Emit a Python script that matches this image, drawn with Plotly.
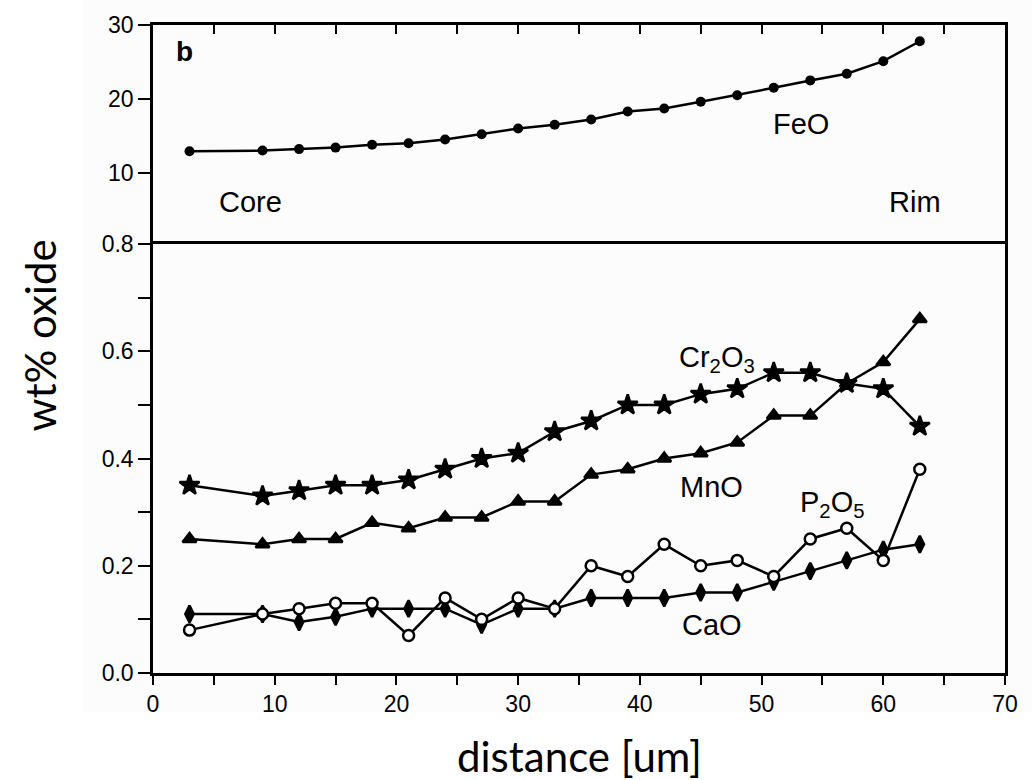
import plotly.graph_objects as go

# Microprobe traverse, core to rim (distance in um)
distance = [3, 9, 12, 15, 18, 21, 24, 27, 30, 33, 36, 39, 42, 45, 48, 51, 54, 57, 60, 63]

feo = [12.9, 13.0, 13.2, 13.4, 13.8, 14.0, 14.5, 15.2, 16.0, 16.5,
       17.2, 18.3, 18.7, 19.6, 20.5, 21.5, 22.5, 23.4, 25.1, 27.8]
cr2o3 = [0.35, 0.33, 0.34, 0.35, 0.35, 0.36, 0.38, 0.40, 0.41, 0.45,
         0.47, 0.50, 0.50, 0.52, 0.53, 0.56, 0.56, 0.54, 0.53, 0.46]
mno = [0.25, 0.24, 0.25, 0.25, 0.28, 0.27, 0.29, 0.29, 0.32, 0.32,
       0.37, 0.38, 0.40, 0.41, 0.43, 0.48, 0.48, 0.54, 0.58, 0.66]
p2o5 = [0.08, 0.11, 0.12, 0.13, 0.13, 0.07, 0.14, 0.10, 0.14, 0.12,
        0.20, 0.18, 0.24, 0.20, 0.21, 0.18, 0.25, 0.27, 0.21, 0.38]
cao = [0.11, 0.11, 0.095, 0.105, 0.12, 0.12, 0.12, 0.09, 0.12, 0.12,
       0.14, 0.14, 0.14, 0.15, 0.15, 0.17, 0.19, 0.21, 0.23, 0.24]

y_ticks_low = [0.0, 0.2, 0.4, 0.6, 0.8]
y_ticks_high = [10, 20, 30]

INK = "black"
LW = 2.5
TICK_FONT = dict(family="Liberation Sans, Arial, sans-serif", size=23, color=INK)
NOTE_FONT = dict(family="Liberation Sans, Arial, sans-serif", size=29, color=INK)
TITLE_FONT = dict(family="Lato, Open Sans, sans-serif", size=42, color=INK)
SPLIT = 0.662

fig = go.Figure()

# upper panel: FeO
fig.add_trace(go.Scatter(
    x=distance, y=feo, mode="lines+markers", xaxis="x", yaxis="y",
    line=dict(color=INK, width=LW),
    marker=dict(symbol="circle", size=10, color=INK),
))

# lower panel: minor oxides
def series(values, symbol, size, fill=INK):
    return go.Scatter(
        x=distance, y=values, mode="lines+markers", xaxis="x2", yaxis="y2",
        line=dict(color=INK, width=LW),
        marker=dict(symbol=symbol, size=size, color=fill,
                    line=dict(color=INK, width=2.5)),
    )

fig.add_trace(series(cr2o3, "star", 15))
fig.add_trace(series(mno, "triangle-up", 12))
fig.add_trace(series(cao, "diamond-tall", 12))
fig.add_trace(series(p2o5, "circle", 11, fill="white"))

axis_common = dict(showgrid=False, zeroline=False, showline=True,
                   linecolor=INK, linewidth=LW, tickcolor=INK, tickwidth=2)

fig.update_layout(
    width=1032, height=780,
    margin=dict(l=153, r=27, t=19, b=107),
    paper_bgcolor="white", plot_bgcolor="#fcfcfc",
    showlegend=False,
    # top edge of the FeO panel (ticks point inward)
    xaxis=dict(**axis_common, domain=[0, 1], anchor="y", range=[0, 70],
               side="top", ticks="inside", dtick=5, ticklen=9,
               showticklabels=False, mirror=False),
    yaxis=dict(**axis_common, domain=[SPLIT, 1], anchor="x", range=[0.35, 30],
               tickvals=y_ticks_high, ticks="outside", ticklen=12,
               tickfont=TICK_FONT, mirror=True),
    xaxis2=dict(**axis_common, domain=[0, 1], anchor="y2", range=[0, 70],
                dtick=10, ticks="outside", ticklen=9, tickfont=TICK_FONT,
                minor=dict(dtick=5, ticks="outside", ticklen=9,
                           tickcolor=INK, tickwidth=2, showgrid=False),
                mirror=True),
    # inward ticks along the shared panel boundary
    xaxis3=dict(showgrid=False, zeroline=False, showline=False,
                overlaying="x2", anchor="y2", side="top", range=[0, 70],
                ticks="inside", dtick=5, ticklen=9, tickcolor=INK,
                tickwidth=2, showticklabels=False),
    yaxis2=dict(**axis_common, domain=[0, SPLIT], anchor="x2", range=[0, 0.8],
                tickvals=y_ticks_low, tickformat=".1f", ticks="outside",
                ticklen=12, tickfont=TICK_FONT,
                minor=dict(dtick=0.1, ticks="outside", ticklen=12,
                           tickcolor=INK, tickwidth=2, showgrid=False),
                mirror=True),
    # inward ticks on the right edge of the lower panel
    yaxis3=dict(showgrid=False, zeroline=False, showline=False,
                overlaying="y2", anchor="x2", side="right", range=[0, 0.8],
                ticks="inside", dtick=0.1, ticklen=10, tickcolor=INK,
                tickwidth=2, showticklabels=False),
)

# faint scan background behind the figure body
fig.add_shape(type="rect", xref="paper", yref="paper",
              x0=-0.0833, x1=1.04, y0=-0.0612, y1=1.05,
              fillcolor="#fcfcfc", line=dict(width=0), layer="below")

notes = [
    ("<b>b</b>", 2.55, 26.4, "x", "y", 28),
    ("FeO", 53.2, 16.6, "x", "y", 29),
    ("Core", 8.0, 6.1, "x", "y", 29),
    ("Rim", 62.6, 6.0, "x", "y", 29),
    ("Cr<sub>2</sub>O<sub>3</sub>", 46.3, 0.585, "x2", "y2", 29),
    ("MnO", 45.9, 0.347, "x2", "y2", 29),
    ("P<sub>2</sub>O<sub>5</sub>", 55.8, 0.315, "x2", "y2", 29),
    ("CaO", 45.9, 0.089, "x2", "y2", 29),
]
for text, nx, ny, xr, yr, fs in notes:
    fig.add_annotation(text=text, x=nx, y=ny, xref=xr, yref=yr,
                       showarrow=False, font=dict(NOTE_FONT, size=fs),
                       xanchor="center", yanchor="middle")

fig.add_annotation(text="wt% oxide", xref="paper", yref="paper",
                   x=-0.1326, y=0.521, textangle=-90, showarrow=False,
                   font=TITLE_FONT, xanchor="center", yanchor="middle")
fig.add_annotation(text="distance [um]", xref="paper", yref="paper",
                   x=0.501, y=-0.128, showarrow=False,
                   font=TITLE_FONT, xanchor="center", yanchor="middle")

fig.write_html("out.html")
